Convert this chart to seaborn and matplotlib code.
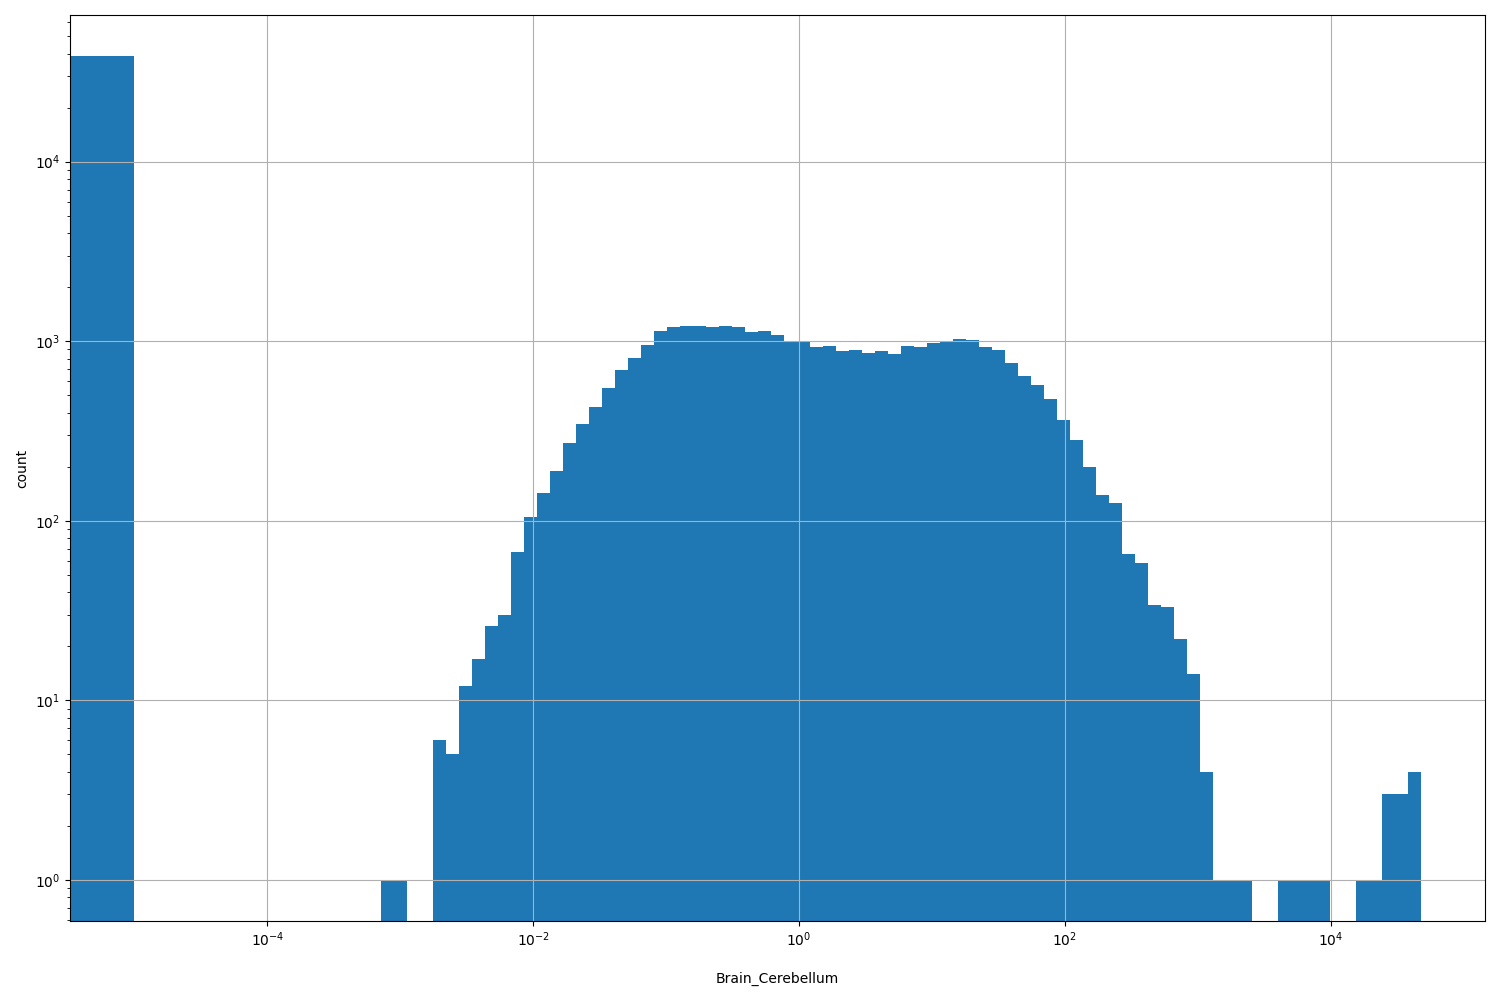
import matplotlib
matplotlib.use("Agg")
import matplotlib.pyplot as plt
import numpy as np
import pandas as pd
import seaborn as sns

# histogram of Brain_Cerebellum values: one bin [0, 1e-5] for zeros, then 99 log bins
zero_count = 38700
log_min, log_max, n_log_bins = -5.0, 4.677, 99
log_counts = [
    0, 0, 0, 0, 0, 0, 0, 0, 0, 0, 0, 0, 0, 0, 0, 0, 0, 0, 0,
    1, 1, 0, 0,
    6, 5, 12, 17, 26, 30, 67, 105, 143, 190, 272, 347, 431, 550, 692, 807, 953,
    1140, 1202, 1217, 1217, 1202, 1217, 1202, 1127, 1140, 1084, 1005, 985, 929,
    946, 884, 895, 861, 884, 850, 946, 929, 980, 995, 1030, 1017, 929, 895, 757,
    641, 571, 477, 365, 282, 200, 140, 126, 65, 58, 34, 33, 22, 14, 4,
    1, 1, 1, 0, 0, 1, 1, 1, 1, 0, 0, 1, 1, 3, 3, 4,
]

edges = np.concatenate([[0.0], np.logspace(log_min, log_max, n_log_bins + 1)])
centers = np.concatenate([[edges[1] / 2], np.sqrt(edges[1:-1] * edges[2:])])
df = pd.DataFrame({"value": centers, "count": [zero_count] + log_counts})

fig, ax = plt.subplots(figsize=(15, 10), dpi=100)
sns.histplot(data=df, x="value", weights="count", bins=list(edges), ax=ax,
             color="#1f77b4", alpha=1.0, linewidth=0)
ax.set_xscale("log")
ax.set_yscale("log")
ax.relim()
ax.autoscale_view()
ax.grid(True)
ax.set_xlabel("Brain_Cerebellum", labelpad=16)
ax.set_ylabel("count")

fig.subplots_adjust(left=0.0467, right=0.99, top=0.985, bottom=0.079)
fig.savefig("out.png", dpi=100)
